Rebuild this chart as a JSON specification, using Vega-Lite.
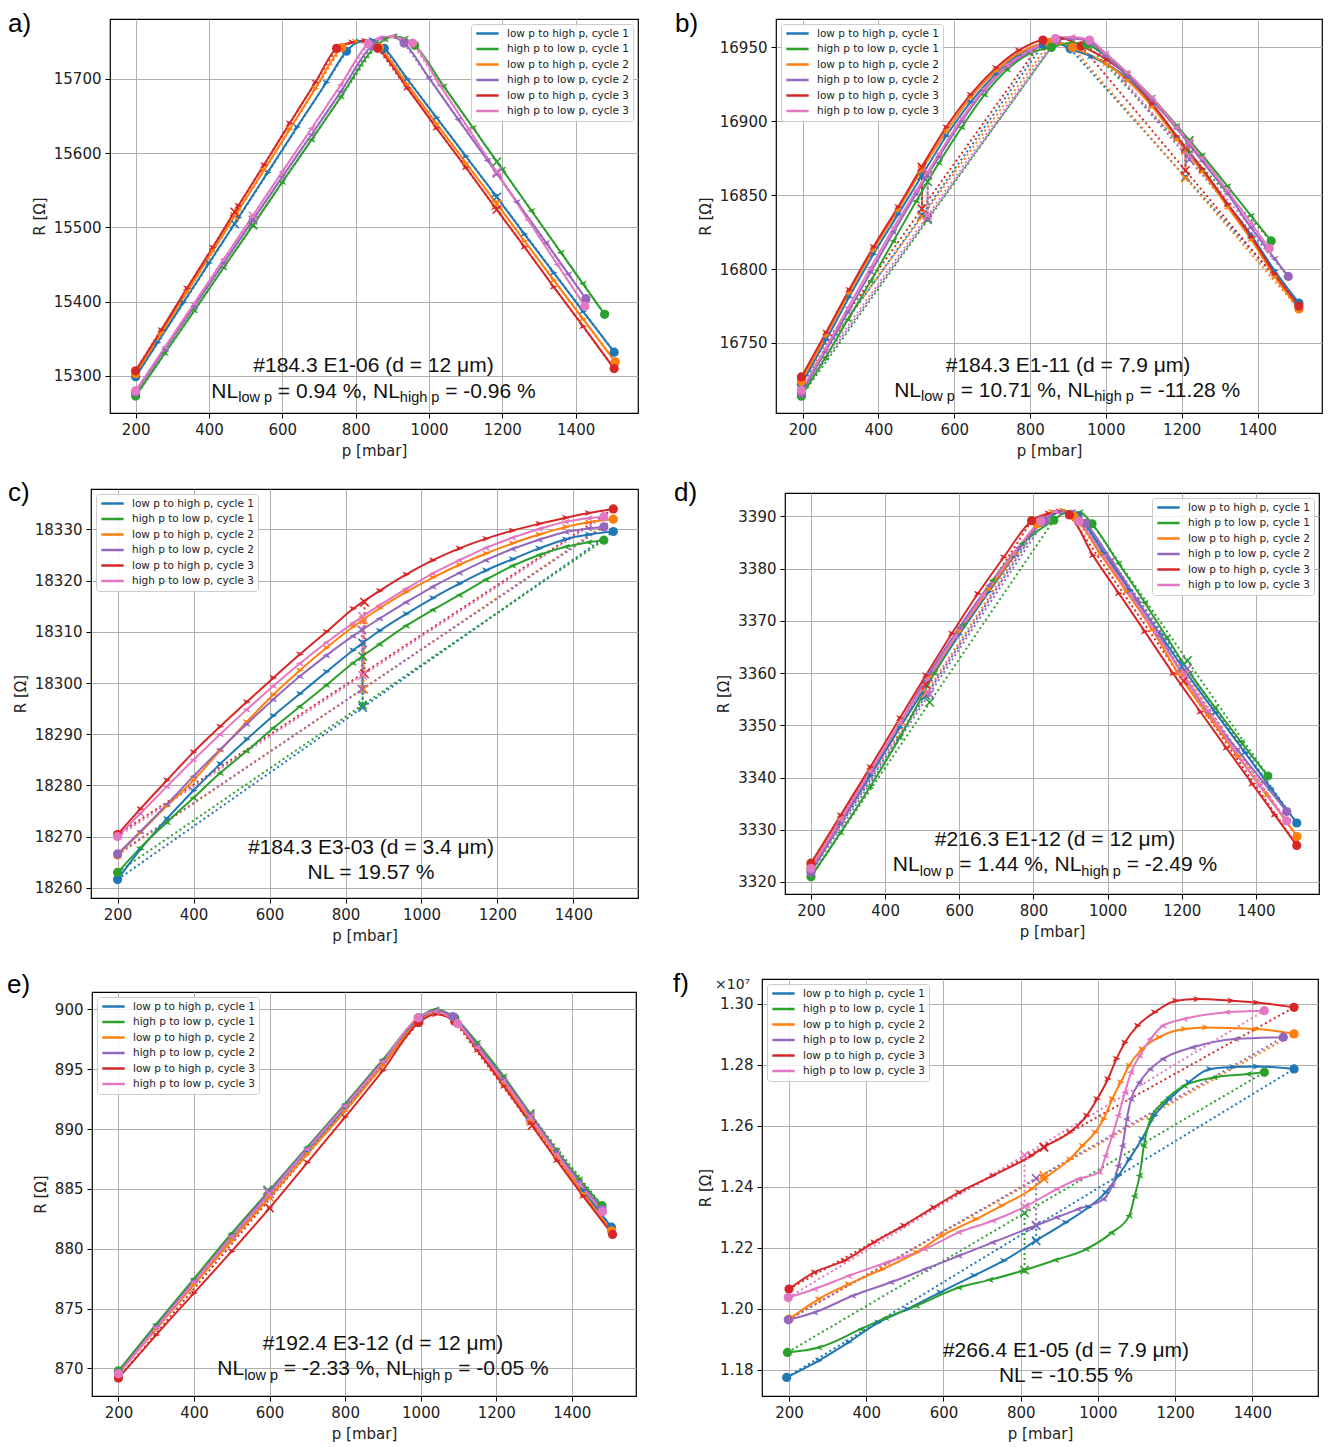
{
"$schema":"https://vega.github.io/schema/vega-lite/v6.json",
"background":"white",
"padding":{"left":6,"top":10,"right":0,"bottom":0},
"config":{
 "view":{"stroke":"#000000","strokeWidth":1.2},
 "axis":{"labelFont":"DejaVu Sans","labelFontSize":15,"labelColor":"#222222","titleFont":"DejaVu Sans","titleFontSize":15,"titleFontWeight":"normal","titleColor":"#222222","tickColor":"#000000","tickSize":5,"tickWidth":1,"domain":false,"grid":true,"gridColor":"#b0b0b0","gridWidth":1,"labelPadding":4,"titlePadding":6,"labelFlush":false,"labelOverlap":false},
 "legend":{"labelFont":"DejaVu Sans","labelFontSize":10.5,"labelColor":"#222222","symbolType":"stroke","symbolStrokeWidth":2.5,"symbolSize":500,"fillColor":"rgba(255,255,255,0.85)","strokeColor":"#cccccc","padding":4,"cornerRadius":3,"rowPadding":4.5,"offset":5,"labelOffset":7,"clipHeight":11},
 "title":{"anchor":"start","frame":"group","font":"Liberation Sans","fontSize":26,"fontWeight":"normal","color":"#000000","baseline":"alphabetic","offset":0}
},
"datasets":{
"a_line":[
{"s":"L1","p":200,"R":15299},{"s":"L1","p":260,"R":15345},{"s":"L1","p":330,"R":15399},{"s":"L1","p":400,"R":15452},{"s":"L1","p":480,"R":15513},{"s":"L1","p":560,"R":15574},{"s":"L1","p":640,"R":15635},{"s":"L1","p":720,"R":15695},{"s":"L1","p":775,"R":15737},{"s":"L1","p":810,"R":15750},{"s":"L1","p":845,"R":15752},{"s":"L1","p":878,"R":15741},{"s":"L1","p":940,"R":15700},{"s":"L1","p":1020,"R":15648},{"s":"L1","p":1100,"R":15596},{"s":"L1","p":1180,"R":15544},{"s":"L1","p":1260,"R":15491},{"s":"L1","p":1340,"R":15439},{"s":"L1","p":1420,"R":15387},{"s":"L1","p":1505,"R":15332},
{"s":"H1","p":200,"R":15273},{"s":"H1","p":280,"R":15331},{"s":"H1","p":360,"R":15388},{"s":"H1","p":440,"R":15446},{"s":"H1","p":520,"R":15503},{"s":"H1","p":600,"R":15561},{"s":"H1","p":680,"R":15618},{"s":"H1","p":760,"R":15676},{"s":"H1","p":855,"R":15744},{"s":"H1","p":880,"R":15753},{"s":"H1","p":905,"R":15757},{"s":"H1","p":935,"R":15754},{"s":"H1","p":961,"R":15745},{"s":"H1","p":1040,"R":15690},{"s":"H1","p":1120,"R":15634},{"s":"H1","p":1200,"R":15578},{"s":"H1","p":1280,"R":15522},{"s":"H1","p":1360,"R":15466},{"s":"H1","p":1420,"R":15424},{"s":"H1","p":1479,"R":15383},
{"s":"L2","p":200,"R":15303},{"s":"L2","p":270,"R":15358},{"s":"L2","p":340,"R":15413},{"s":"L2","p":410,"R":15468},{"s":"L2","p":480,"R":15523},{"s":"L2","p":550,"R":15577},{"s":"L2","p":620,"R":15632},{"s":"L2","p":690,"R":15687},{"s":"L2","p":762,"R":15742},{"s":"L2","p":800,"R":15750},{"s":"L2","p":835,"R":15750},{"s":"L2","p":865,"R":15742},{"s":"L2","p":940,"R":15693},{"s":"L2","p":1020,"R":15640},{"s":"L2","p":1100,"R":15587},{"s":"L2","p":1180,"R":15535},{"s":"L2","p":1260,"R":15482},{"s":"L2","p":1340,"R":15429},{"s":"L2","p":1420,"R":15377},{"s":"L2","p":1508,"R":15319},
{"s":"H2","p":200,"R":15278},{"s":"H2","p":280,"R":15336},{"s":"H2","p":360,"R":15394},{"s":"H2","p":440,"R":15452},{"s":"H2","p":520,"R":15510},{"s":"H2","p":600,"R":15568},{"s":"H2","p":680,"R":15625},{"s":"H2","p":760,"R":15683},{"s":"H2","p":845,"R":15745},{"s":"H2","p":870,"R":15754},{"s":"H2","p":900,"R":15757},{"s":"H2","p":932,"R":15748},{"s":"H2","p":1000,"R":15701},{"s":"H2","p":1080,"R":15645},{"s":"H2","p":1160,"R":15590},{"s":"H2","p":1240,"R":15534},{"s":"H2","p":1320,"R":15479},{"s":"H2","p":1380,"R":15437},{"s":"H2","p":1428,"R":15404},
{"s":"L3","p":200,"R":15307},{"s":"L3","p":270,"R":15362},{"s":"L3","p":340,"R":15418},{"s":"L3","p":410,"R":15473},{"s":"L3","p":480,"R":15529},{"s":"L3","p":550,"R":15584},{"s":"L3","p":620,"R":15640},{"s":"L3","p":690,"R":15695},{"s":"L3","p":748,"R":15741},{"s":"L3","p":790,"R":15749},{"s":"L3","p":825,"R":15751},{"s":"L3","p":860,"R":15741},{"s":"L3","p":940,"R":15688},{"s":"L3","p":1020,"R":15634},{"s":"L3","p":1100,"R":15581},{"s":"L3","p":1180,"R":15527},{"s":"L3","p":1260,"R":15474},{"s":"L3","p":1340,"R":15420},{"s":"L3","p":1420,"R":15367},{"s":"L3","p":1505,"R":15310},
{"s":"H3","p":200,"R":15280},{"s":"H3","p":280,"R":15339},{"s":"H3","p":360,"R":15398},{"s":"H3","p":440,"R":15457},{"s":"H3","p":520,"R":15516},{"s":"H3","p":600,"R":15575},{"s":"H3","p":680,"R":15633},{"s":"H3","p":760,"R":15692},{"s":"H3","p":834,"R":15747},{"s":"H3","p":865,"R":15755},{"s":"H3","p":900,"R":15757},{"s":"H3","p":930,"R":15753},{"s":"H3","p":955,"R":15748},{"s":"H3","p":1030,"R":15691},{"s":"H3","p":1110,"R":15631},{"s":"H3","p":1190,"R":15570},{"s":"H3","p":1270,"R":15510},{"s":"H3","p":1350,"R":15450},{"s":"H3","p":1425,"R":15394}
],
"a_end":[
{"s":"L1","g":"a","p":200,"R":15299},{"s":"L1","g":"a","p":775,"R":15737},{"s":"L1","g":"b","p":878,"R":15741},{"s":"L1","g":"b","p":1505,"R":15332},
{"s":"H1","g":"a","p":200,"R":15273},{"s":"H1","g":"a","p":855,"R":15744},{"s":"H1","g":"b","p":961,"R":15745},{"s":"H1","g":"b","p":1479,"R":15383},
{"s":"L2","g":"a","p":200,"R":15303},{"s":"L2","g":"a","p":762,"R":15742},{"s":"L2","g":"b","p":865,"R":15742},{"s":"L2","g":"b","p":1508,"R":15319},
{"s":"H2","g":"a","p":200,"R":15278},{"s":"H2","g":"a","p":845,"R":15745},{"s":"H2","g":"b","p":932,"R":15748},{"s":"H2","g":"b","p":1428,"R":15404},
{"s":"L3","g":"a","p":200,"R":15307},{"s":"L3","g":"a","p":748,"R":15741},{"s":"L3","g":"b","p":860,"R":15741},{"s":"L3","g":"b","p":1505,"R":15310},
{"s":"H3","g":"a","p":200,"R":15280},{"s":"H3","g":"a","p":834,"R":15747},{"s":"H3","g":"b","p":955,"R":15748},{"s":"H3","g":"b","p":1425,"R":15394}
],
"a_x":[
{"s":"L1","g":"1","p":470,"R":15504.7},{"s":"L1","g":"2","p":1185,"R":15541},
{"s":"L2","g":"1","p":470,"R":15514.7},{"s":"L2","g":"2","p":1185,"R":15531.4},
{"s":"L3","g":"1","p":470,"R":15520.8},{"s":"L3","g":"2","p":1185,"R":15523.9},
{"s":"H1","g":"1","p":520,"R":15503},{"s":"H1","g":"2","p":1185,"R":15588.4},
{"s":"H2","g":"1","p":520,"R":15509.7},{"s":"H2","g":"2","p":1185,"R":15572.5},
{"s":"H3","g":"1","p":520,"R":15515.8},{"s":"H3","g":"2","p":1185,"R":15574.8}
],
"a_txt":[{"p":848.6,"R":15305.8,"t":"#184.3 E1-06 (d = 12 μm)"}],
"a_sub":[{"p":406.4,"R":15271.0,"t":"NL","k":"m"},{"p":479.6,"R":15264.9,"t":"low p","k":"s"},{"p":587.8,"R":15271.0,"t":"= 0.94 %, NL","k":"m"},{"p":920.5,"R":15264.9,"t":"high p","k":"s"},{"p":1044.1,"R":15271.0,"t":"= -0.96 %","k":"m"}],
"b_line":[
{"s":"L1","p":197,"R":16722},{"s":"L1","p":262,"R":16752},{"s":"L1","p":323,"R":16781},{"s":"L1","p":387,"R":16810},{"s":"L1","p":452,"R":16837},{"s":"L1","p":514,"R":16863},{"s":"L1","p":579,"R":16890},{"s":"L1","p":643,"R":16913},{"s":"L1","p":710,"R":16932},{"s":"L1","p":770,"R":16945},{"s":"L1","p":835,"R":16952},{"s":"L1","p":870,"R":16953},{"s":"L1","p":906,"R":16949},{"s":"L1","p":960,"R":16944},{"s":"L1","p":1056,"R":16929},{"s":"L1","p":1122,"R":16911},{"s":"L1","p":1187,"R":16889},{"s":"L1","p":1254,"R":16867},{"s":"L1","p":1321,"R":16844},{"s":"L1","p":1383,"R":16823},{"s":"L1","p":1445,"R":16799},{"s":"L1","p":1509,"R":16777},
{"s":"L2","p":197,"R":16724},{"s":"L2","p":262,"R":16755},{"s":"L2","p":323,"R":16784},{"s":"L2","p":387,"R":16813},{"s":"L2","p":452,"R":16840},{"s":"L2","p":514,"R":16867},{"s":"L2","p":579,"R":16893},{"s":"L2","p":643,"R":16916},{"s":"L2","p":710,"R":16934},{"s":"L2","p":770,"R":16946},{"s":"L2","p":851,"R":16953},{"s":"L2","p":880,"R":16953},{"s":"L2","p":912,"R":16950},{"s":"L2","p":1000,"R":16939},{"s":"L2","p":1056,"R":16928},{"s":"L2","p":1122,"R":16910},{"s":"L2","p":1187,"R":16888},{"s":"L2","p":1254,"R":16866},{"s":"L2","p":1321,"R":16842},{"s":"L2","p":1383,"R":16820},{"s":"L2","p":1445,"R":16795},{"s":"L2","p":1509,"R":16773},
{"s":"L3","p":197,"R":16727},{"s":"L3","p":262,"R":16757},{"s":"L3","p":323,"R":16786},{"s":"L3","p":387,"R":16815},{"s":"L3","p":452,"R":16842},{"s":"L3","p":514,"R":16869},{"s":"L3","p":579,"R":16896},{"s":"L3","p":643,"R":16918},{"s":"L3","p":710,"R":16936},{"s":"L3","p":770,"R":16948},{"s":"L3","p":834,"R":16955},{"s":"L3","p":885,"R":16956},{"s":"L3","p":935,"R":16951},{"s":"L3","p":1000,"R":16942},{"s":"L3","p":1056,"R":16931},{"s":"L3","p":1122,"R":16912},{"s":"L3","p":1187,"R":16890},{"s":"L3","p":1254,"R":16868},{"s":"L3","p":1321,"R":16844},{"s":"L3","p":1383,"R":16822},{"s":"L3","p":1445,"R":16797},{"s":"L3","p":1509,"R":16775},
{"s":"H1","p":197,"R":16714},{"s":"H1","p":260,"R":16740},{"s":"H1","p":320,"R":16766},{"s":"H1","p":380,"R":16792},{"s":"H1","p":440,"R":16819},{"s":"H1","p":500,"R":16846},{"s":"H1","p":560,"R":16872},{"s":"H1","p":620,"R":16896},{"s":"H1","p":680,"R":16918},{"s":"H1","p":740,"R":16935},{"s":"H1","p":800,"R":16946},{"s":"H1","p":856,"R":16950},{"s":"H1","p":905,"R":16953},{"s":"H1","p":950,"R":16952},{"s":"H1","p":1000,"R":16944},{"s":"H1","p":1056,"R":16932},{"s":"H1","p":1122,"R":16916},{"s":"H1","p":1187,"R":16897},{"s":"H1","p":1254,"R":16877},{"s":"H1","p":1321,"R":16856},{"s":"H1","p":1383,"R":16836},{"s":"H1","p":1436,"R":16819},
{"s":"H2","p":197,"R":16716},{"s":"H2","p":260,"R":16744},{"s":"H2","p":320,"R":16771},{"s":"H2","p":380,"R":16798},{"s":"H2","p":440,"R":16825},{"s":"H2","p":500,"R":16851},{"s":"H2","p":560,"R":16876},{"s":"H2","p":620,"R":16900},{"s":"H2","p":680,"R":16921},{"s":"H2","p":740,"R":16937},{"s":"H2","p":800,"R":16947},{"s":"H2","p":870,"R":16955},{"s":"H2","p":910,"R":16956},{"s":"H2","p":957,"R":16954},{"s":"H2","p":1000,"R":16944},{"s":"H2","p":1056,"R":16931},{"s":"H2","p":1122,"R":16914},{"s":"H2","p":1187,"R":16895},{"s":"H2","p":1254,"R":16873},{"s":"H2","p":1321,"R":16851},{"s":"H2","p":1383,"R":16828},{"s":"H2","p":1445,"R":16807},{"s":"H2","p":1481,"R":16795},
{"s":"H3","p":197,"R":16718},{"s":"H3","p":260,"R":16746},{"s":"H3","p":320,"R":16774},{"s":"H3","p":380,"R":16801},{"s":"H3","p":440,"R":16828},{"s":"H3","p":500,"R":16853},{"s":"H3","p":560,"R":16878},{"s":"H3","p":620,"R":16902},{"s":"H3","p":680,"R":16922},{"s":"H3","p":740,"R":16938},{"s":"H3","p":800,"R":16948},{"s":"H3","p":867,"R":16956},{"s":"H3","p":910,"R":16957},{"s":"H3","p":957,"R":16955},{"s":"H3","p":1000,"R":16946},{"s":"H3","p":1056,"R":16933},{"s":"H3","p":1122,"R":16916},{"s":"H3","p":1187,"R":16896},{"s":"H3","p":1254,"R":16875},{"s":"H3","p":1321,"R":16853},{"s":"H3","p":1383,"R":16831},{"s":"H3","p":1431,"R":16814}
],
"b_end":[
{"s":"L1","g":"a","p":197,"R":16722},{"s":"L1","g":"a","p":835,"R":16952},{"s":"L1","g":"b","p":906,"R":16949},{"s":"L1","g":"b","p":1509,"R":16777},
{"s":"L2","g":"a","p":197,"R":16724},{"s":"L2","g":"a","p":851,"R":16953},{"s":"L2","g":"b","p":912,"R":16950},{"s":"L2","g":"b","p":1509,"R":16773},
{"s":"L3","g":"a","p":197,"R":16727},{"s":"L3","g":"a","p":834,"R":16955},{"s":"L3","g":"b","p":935,"R":16951},{"s":"L3","g":"b","p":1509,"R":16775},
{"s":"H1","g":"a","p":197,"R":16714},{"s":"H1","g":"a","p":856,"R":16950},{"s":"H1","g":"b","p":950,"R":16952},{"s":"H1","g":"b","p":1436,"R":16819},
{"s":"H2","g":"a","p":197,"R":16716},{"s":"H2","g":"a","p":870,"R":16955},{"s":"H2","g":"b","p":957,"R":16954},{"s":"H2","g":"b","p":1481,"R":16795},
{"s":"H3","g":"a","p":197,"R":16718},{"s":"H3","g":"a","p":867,"R":16956},{"s":"H3","g":"b","p":957,"R":16955},{"s":"H3","g":"b","p":1431,"R":16814}
],
"b_x":[
{"s":"L1","g":"1","p":515,"R":16836.6},{"s":"L1","g":"1","p":515,"R":16863},{"s":"L1","g":"2","p":1210,"R":16862.3},{"s":"L1","g":"2","p":1210,"R":16881.4},
{"s":"L2","g":"1","p":515,"R":16835.3},{"s":"L2","g":"1","p":515,"R":16867},{"s":"L2","g":"2","p":1210,"R":16861.6},{"s":"L2","g":"2","p":1210,"R":16880.4},
{"s":"L3","g":"1","p":515,"R":16840.8},{"s":"L3","g":"1","p":515,"R":16869},{"s":"L3","g":"2","p":1210,"R":16866.7},{"s":"L3","g":"2","p":1210,"R":16882.5},
{"s":"H1","g":"1","p":530,"R":16833.3},{"s":"H1","g":"1","p":530,"R":16859},{"s":"H1","g":"2","p":1220,"R":16878.1},{"s":"H1","g":"2","p":1220,"R":16887.1},
{"s":"H2","g":"1","p":530,"R":16834.3},{"s":"H2","g":"1","p":530,"R":16863.5},{"s":"H2","g":"2","p":1220,"R":16874.2},{"s":"H2","g":"2","p":1220,"R":16884.2},
{"s":"H3","g":"1","p":530,"R":16836.3},{"s":"H3","g":"1","p":530,"R":16865.5},{"s":"H3","g":"2","p":1220,"R":16876.8},{"s":"H3","g":"2","p":1220,"R":16885.7}
],
"b_txt":[{"p":900.1,"R":16730.5,"t":"#184.3 E1-11 (d = 7.9 μm)"}],
"b_sub":[{"p":441.6,"R":16713.6,"t":"NL","k":"m"},{"p":512.4,"R":16710.6,"t":"low p","k":"s"},{"p":617.0,"R":16713.6,"t":"= 10.71 %, NL","k":"m"},{"p":969.5,"R":16710.6,"t":"high p","k":"s"},{"p":1089.1,"R":16713.6,"t":"= -11.28 %","k":"m"}],
"c_line":[
{"s":"L1","p":200,"R":18261.6},{"s":"L1","p":260,"R":18267.5},{"s":"L1","p":330,"R":18273.5},{"s":"L1","p":400,"R":18279.0},{"s":"L1","p":470,"R":18284.2},{"s":"L1","p":540,"R":18289.0},{"s":"L1","p":610,"R":18293.6},{"s":"L1","p":680,"R":18297.9},{"s":"L1","p":750,"R":18302.2},{"s":"L1","p":820,"R":18306.4},{"s":"L1","p":890,"R":18310.2},{"s":"L1","p":960,"R":18313.5},{"s":"L1","p":1030,"R":18316.6},{"s":"L1","p":1100,"R":18319.4},{"s":"L1","p":1170,"R":18322.0},{"s":"L1","p":1240,"R":18324.2},{"s":"L1","p":1310,"R":18326.3},{"s":"L1","p":1380,"R":18328.1},{"s":"L1","p":1440,"R":18329.0},{"s":"L1","p":1505,"R":18329.6},
{"s":"H1","p":200,"R":18263.0},{"s":"H1","p":260,"R":18267.8},{"s":"H1","p":330,"R":18272.8},{"s":"H1","p":400,"R":18277.6},{"s":"H1","p":470,"R":18282.4},{"s":"H1","p":540,"R":18286.7},{"s":"H1","p":610,"R":18291.2},{"s":"H1","p":680,"R":18295.4},{"s":"H1","p":750,"R":18299.6},{"s":"H1","p":820,"R":18303.9},{"s":"H1","p":890,"R":18307.6},{"s":"H1","p":960,"R":18311.2},{"s":"H1","p":1030,"R":18314.3},{"s":"H1","p":1100,"R":18317.2},{"s":"H1","p":1170,"R":18320.2},{"s":"H1","p":1240,"R":18322.9},{"s":"H1","p":1310,"R":18325.0},{"s":"H1","p":1380,"R":18326.6},{"s":"H1","p":1440,"R":18327.5},{"s":"H1","p":1480,"R":18327.9},
{"s":"L2","p":200,"R":18266.4},{"s":"L2","p":260,"R":18270.8},{"s":"L2","p":330,"R":18276.0},{"s":"L2","p":400,"R":18281.0},{"s":"L2","p":470,"R":18286.8},{"s":"L2","p":540,"R":18292.4},{"s":"L2","p":610,"R":18297.7},{"s":"L2","p":680,"R":18302.5},{"s":"L2","p":750,"R":18306.9},{"s":"L2","p":820,"R":18311.0},{"s":"L2","p":890,"R":18314.6},{"s":"L2","p":960,"R":18317.8},{"s":"L2","p":1030,"R":18320.6},{"s":"L2","p":1100,"R":18323.1},{"s":"L2","p":1170,"R":18325.3},{"s":"L2","p":1240,"R":18327.3},{"s":"L2","p":1310,"R":18329.0},{"s":"L2","p":1380,"R":18330.5},{"s":"L2","p":1440,"R":18331.4},{"s":"L2","p":1505,"R":18332.0},
{"s":"H2","p":200,"R":18266.6},{"s":"H2","p":260,"R":18271.0},{"s":"H2","p":330,"R":18276.3},{"s":"H2","p":400,"R":18281.8},{"s":"H2","p":470,"R":18287.0},{"s":"H2","p":540,"R":18292.0},{"s":"H2","p":610,"R":18296.8},{"s":"H2","p":680,"R":18301.3},{"s":"H2","p":750,"R":18305.4},{"s":"H2","p":820,"R":18309.2},{"s":"H2","p":890,"R":18312.6},{"s":"H2","p":960,"R":18315.8},{"s":"H2","p":1030,"R":18318.8},{"s":"H2","p":1100,"R":18321.5},{"s":"H2","p":1170,"R":18324.0},{"s":"H2","p":1240,"R":18326.2},{"s":"H2","p":1310,"R":18328.0},{"s":"H2","p":1380,"R":18329.5},{"s":"H2","p":1440,"R":18330.2},{"s":"H2","p":1480,"R":18330.5},
{"s":"L3","p":200,"R":18270.4},{"s":"L3","p":260,"R":18275.4},{"s":"L3","p":330,"R":18281.0},{"s":"L3","p":400,"R":18286.5},{"s":"L3","p":470,"R":18291.5},{"s":"L3","p":540,"R":18296.3},{"s":"L3","p":610,"R":18301.0},{"s":"L3","p":680,"R":18305.6},{"s":"L3","p":750,"R":18310.0},{"s":"L3","p":820,"R":18314.5},{"s":"L3","p":890,"R":18318.0},{"s":"L3","p":960,"R":18321.2},{"s":"L3","p":1030,"R":18324.0},{"s":"L3","p":1100,"R":18326.3},{"s":"L3","p":1170,"R":18328.2},{"s":"L3","p":1240,"R":18329.8},{"s":"L3","p":1310,"R":18331.1},{"s":"L3","p":1380,"R":18332.3},{"s":"L3","p":1440,"R":18333.2},{"s":"L3","p":1505,"R":18334.0},
{"s":"H3","p":200,"R":18270.0},{"s":"H3","p":260,"R":18274.5},{"s":"H3","p":330,"R":18279.8},{"s":"H3","p":400,"R":18285.0},{"s":"H3","p":470,"R":18290.0},{"s":"H3","p":540,"R":18294.8},{"s":"H3","p":610,"R":18299.4},{"s":"H3","p":680,"R":18303.8},{"s":"H3","p":750,"R":18307.9},{"s":"H3","p":820,"R":18311.7},{"s":"H3","p":890,"R":18315.2},{"s":"H3","p":960,"R":18318.4},{"s":"H3","p":1030,"R":18321.4},{"s":"H3","p":1100,"R":18324.0},{"s":"H3","p":1170,"R":18326.4},{"s":"H3","p":1240,"R":18328.4},{"s":"H3","p":1310,"R":18330.1},{"s":"H3","p":1380,"R":18331.5},{"s":"H3","p":1440,"R":18332.2},{"s":"H3","p":1480,"R":18332.5}
],
"c_end":[
{"s":"L1","g":"a","p":200,"R":18261.6},{"s":"L1","g":"a","p":1505,"R":18329.6},
{"s":"H1","g":"a","p":200,"R":18263.0},{"s":"H1","g":"a","p":1480,"R":18327.9},
{"s":"L2","g":"a","p":200,"R":18266.4},{"s":"L2","g":"a","p":1505,"R":18332.0},
{"s":"H2","g":"a","p":200,"R":18266.6},{"s":"H2","g":"a","p":1480,"R":18330.5},
{"s":"L3","g":"a","p":200,"R":18270.4},{"s":"L3","g":"a","p":1505,"R":18334.0},
{"s":"H3","g":"a","p":200,"R":18270.0},{"s":"H3","g":"a","p":1480,"R":18332.5}
],
"c_x":[
{"s":"L1","g":"1","p":845,"R":18307.8},{"s":"L1","g":"1","p":845,"R":18295.2},
{"s":"H1","g":"1","p":845,"R":18305.2},{"s":"H1","g":"1","p":845,"R":18295.7},
{"s":"L2","g":"1","p":848,"R":18312.3},{"s":"L2","g":"1","p":848,"R":18298.8},
{"s":"H2","g":"1","p":843,"R":18310.4},{"s":"H2","g":"1","p":843,"R":18298.8},
{"s":"L3","g":"1","p":850,"R":18315.8},{"s":"L3","g":"1","p":850,"R":18301.8},
{"s":"H3","g":"1","p":845,"R":18313.0},{"s":"H3","g":"1","p":845,"R":18301.5}
],
"c_txt":[{"p":867.1,"R":18266.5,"t":"#184.3 E3-03 (d = 3.4 μm)"},{"p":867.1,"R":18261.7,"t":"NL = 19.57 %"}],
"d_line":[
{"s":"L1","p":200,"R":3322.3},{"s":"L1","p":280,"R":3331.3},{"s":"L1","p":360,"R":3340.4},{"s":"L1","p":440,"R":3349.6},{"s":"L1","p":520,"R":3358.6},{"s":"L1","p":600,"R":3367.4},{"s":"L1","p":680,"R":3375.6},{"s":"L1","p":750,"R":3382.6},{"s":"L1","p":820,"R":3389.0},{"s":"L1","p":860,"R":3390.7},{"s":"L1","p":890,"R":3390.9},{"s":"L1","p":920,"R":3390.0},{"s":"L1","p":990,"R":3383.0},{"s":"L1","p":1060,"R":3375.8},{"s":"L1","p":1140,"R":3367.6},{"s":"L1","p":1213,"R":3360.0},{"s":"L1","p":1290,"R":3352.5},{"s":"L1","p":1370,"R":3344.8},{"s":"L1","p":1440,"R":3338.0},{"s":"L1","p":1510,"R":3331.3},
{"s":"L2","p":200,"R":3322.8},{"s":"L2","p":280,"R":3332.0},{"s":"L2","p":360,"R":3341.2},{"s":"L2","p":440,"R":3350.4},{"s":"L2","p":520,"R":3359.4},{"s":"L2","p":600,"R":3368.0},{"s":"L2","p":680,"R":3376.0},{"s":"L2","p":750,"R":3382.9},{"s":"L2","p":810,"R":3388.6},{"s":"L2","p":850,"R":3390.9},{"s":"L2","p":880,"R":3391.2},{"s":"L2","p":910,"R":3390.0},{"s":"L2","p":980,"R":3382.9},{"s":"L2","p":1050,"R":3375.7},{"s":"L2","p":1120,"R":3368.4},{"s":"L2","p":1190,"R":3360.0},{"s":"L2","p":1270,"R":3352.0},{"s":"L2","p":1350,"R":3344.2},{"s":"L2","p":1430,"R":3336.6},{"s":"L2","p":1511,"R":3328.7},
{"s":"L3","p":200,"R":3323.6},{"s":"L3","p":280,"R":3332.8},{"s":"L3","p":360,"R":3342.0},{"s":"L3","p":440,"R":3351.4},{"s":"L3","p":510,"R":3359.6},{"s":"L3","p":580,"R":3367.6},{"s":"L3","p":650,"R":3375.2},{"s":"L3","p":720,"R":3382.2},{"s":"L3","p":795,"R":3389.2},{"s":"L3","p":840,"R":3390.6},{"s":"L3","p":870,"R":3391.0},{"s":"L3","p":897,"R":3390.3},{"s":"L3","p":960,"R":3382.6},{"s":"L3","p":1030,"R":3375.3},{"s":"L3","p":1100,"R":3368.0},{"s":"L3","p":1176,"R":3360.0},{"s":"L3","p":1250,"R":3352.6},{"s":"L3","p":1320,"R":3345.7},{"s":"L3","p":1390,"R":3338.8},{"s":"L3","p":1450,"R":3332.9},{"s":"L3","p":1510,"R":3327.0},
{"s":"H1","p":200,"R":3321.0},{"s":"H1","p":280,"R":3329.5},{"s":"H1","p":360,"R":3338.3},{"s":"H1","p":440,"R":3347.7},{"s":"H1","p":533,"R":3360.0},{"s":"H1","p":610,"R":3369.2},{"s":"H1","p":690,"R":3377.8},{"s":"H1","p":770,"R":3384.8},{"s":"H1","p":855,"R":3389.3},{"s":"H1","p":890,"R":3390.8},{"s":"H1","p":925,"R":3390.8},{"s":"H1","p":958,"R":3388.6},{"s":"H1","p":1030,"R":3381.0},{"s":"H1","p":1100,"R":3373.5},{"s":"H1","p":1160,"R":3366.8},{"s":"H1","p":1222,"R":3360.0},{"s":"H1","p":1290,"R":3353.4},{"s":"H1","p":1360,"R":3346.8},{"s":"H1","p":1432,"R":3340.3},
{"s":"H2","p":200,"R":3321.8},{"s":"H2","p":280,"R":3331.3},{"s":"H2","p":360,"R":3340.9},{"s":"H2","p":440,"R":3350.4},{"s":"H2","p":520,"R":3360.0},{"s":"H2","p":600,"R":3368.8},{"s":"H2","p":680,"R":3376.8},{"s":"H2","p":760,"R":3384.0},{"s":"H2","p":830,"R":3389.2},{"s":"H2","p":870,"R":3390.8},{"s":"H2","p":905,"R":3390.9},{"s":"H2","p":941,"R":3388.7},{"s":"H2","p":1010,"R":3381.6},{"s":"H2","p":1080,"R":3374.0},{"s":"H2","p":1140,"R":3367.2},{"s":"H2","p":1195,"R":3360.5},{"s":"H2","p":1270,"R":3352.6},{"s":"H2","p":1350,"R":3345.3},{"s":"H2","p":1420,"R":3339.1},{"s":"H2","p":1483,"R":3333.5},
{"s":"H3","p":200,"R":3322.6},{"s":"H3","p":280,"R":3331.9},{"s":"H3","p":360,"R":3341.2},{"s":"H3","p":440,"R":3350.4},{"s":"H3","p":515,"R":3358.8},{"s":"H3","p":590,"R":3367.0},{"s":"H3","p":665,"R":3375.0},{"s":"H3","p":745,"R":3382.8},{"s":"H3","p":820,"R":3389.1},{"s":"H3","p":860,"R":3390.9},{"s":"H3","p":895,"R":3390.8},{"s":"H3","p":923,"R":3389.1},{"s":"H3","p":990,"R":3382.4},{"s":"H3","p":1060,"R":3375.2},{"s":"H3","p":1130,"R":3367.7},{"s":"H3","p":1200,"R":3360.0},{"s":"H3","p":1270,"R":3352.8},{"s":"H3","p":1340,"R":3345.5},{"s":"H3","p":1410,"R":3338.4},{"s":"H3","p":1483,"R":3331.7}
],
"d_end":[
{"s":"L1","g":"a","p":200,"R":3322.3},{"s":"L1","g":"a","p":820,"R":3389.0},{"s":"L1","g":"b","p":920,"R":3390.0},{"s":"L1","g":"b","p":1510,"R":3331.3},
{"s":"L2","g":"a","p":200,"R":3322.8},{"s":"L2","g":"a","p":810,"R":3388.6},{"s":"L2","g":"b","p":910,"R":3390.0},{"s":"L2","g":"b","p":1511,"R":3328.7},
{"s":"L3","g":"a","p":200,"R":3323.6},{"s":"L3","g":"a","p":795,"R":3389.2},{"s":"L3","g":"b","p":897,"R":3390.3},{"s":"L3","g":"b","p":1510,"R":3327.0},
{"s":"H1","g":"a","p":200,"R":3321.0},{"s":"H1","g":"a","p":855,"R":3389.3},{"s":"H1","g":"b","p":958,"R":3388.6},{"s":"H1","g":"b","p":1432,"R":3340.3},
{"s":"H2","g":"a","p":200,"R":3321.8},{"s":"H2","g":"a","p":830,"R":3389.2},{"s":"H2","g":"b","p":941,"R":3388.7},{"s":"H2","g":"b","p":1483,"R":3333.5},
{"s":"H3","g":"a","p":200,"R":3322.6},{"s":"H3","g":"a","p":820,"R":3389.1},{"s":"H3","g":"b","p":923,"R":3389.1},{"s":"H3","g":"b","p":1483,"R":3331.7}
],
"d_x":[
{"s":"L1","g":"1","p":510,"R":3355.65},{"s":"L1","g":"2","p":1205,"R":3361.6},
{"s":"L2","g":"1","p":510,"R":3356.2},{"s":"L2","g":"2","p":1205,"R":3359.9},
{"s":"L3","g":"1","p":510,"R":3357.8},{"s":"L3","g":"2","p":1205,"R":3358.5},
{"s":"H1","g":"1","p":520,"R":3354.4},{"s":"H1","g":"2","p":1215,"R":3362.4},
{"s":"H2","g":"1","p":520,"R":3356.0},{"s":"H2","g":"2","p":1215,"R":3360.8},
{"s":"H3","g":"1","p":515,"R":3356.4},{"s":"H3","g":"2","p":1210,"R":3359.7}
],
"d_txt":[{"p":858.1,"R":3326.9,"t":"#216.3 E1-12 (d = 12 μm)"}],
"d_sub":[{"p":420.8,"R":3322.05,"t":"NL","k":"m"},{"p":493.2,"R":3321.19,"t":"low p","k":"s"},{"p":600.2,"R":3322.05,"t":"= 1.44 %, NL","k":"m"},{"p":929.2,"R":3321.19,"t":"high p","k":"s"},{"p":1051.4,"R":3322.05,"t":"= -2.49 %","k":"m"}],
"e_line":[
{"s":"L1","p":200,"R":869.7},{"s":"L1","p":300,"R":873.5},{"s":"L1","p":400,"R":877.3},{"s":"L1","p":500,"R":881.0},{"s":"L1","p":600,"R":884.6},{"s":"L1","p":700,"R":888.2},{"s":"L1","p":800,"R":891.8},{"s":"L1","p":900,"R":895.6},{"s":"L1","p":995,"R":899.2},{"s":"L1","p":1040,"R":899.8},{"s":"L1","p":1090,"R":899.2},{"s":"L1","p":1150,"R":896.9},{"s":"L1","p":1220,"R":894.0},{"s":"L1","p":1290,"R":891.0},{"s":"L1","p":1360,"R":888.0},{"s":"L1","p":1430,"R":884.9},{"s":"L1","p":1505,"R":881.8},
{"s":"L2","p":200,"R":869.6},{"s":"L2","p":300,"R":873.3},{"s":"L2","p":400,"R":877.0},{"s":"L2","p":500,"R":880.7},{"s":"L2","p":600,"R":884.3},{"s":"L2","p":700,"R":887.9},{"s":"L2","p":800,"R":891.5},{"s":"L2","p":900,"R":895.3},{"s":"L2","p":995,"R":899.0},{"s":"L2","p":1040,"R":899.7},{"s":"L2","p":1090,"R":899.1},{"s":"L2","p":1150,"R":896.8},{"s":"L2","p":1220,"R":893.8},{"s":"L2","p":1290,"R":890.8},{"s":"L2","p":1360,"R":887.8},{"s":"L2","p":1430,"R":884.6},{"s":"L2","p":1505,"R":881.5},
{"s":"L3","p":200,"R":869.2},{"s":"L3","p":300,"R":872.8},{"s":"L3","p":400,"R":876.3},{"s":"L3","p":500,"R":879.8},{"s":"L3","p":600,"R":883.4},{"s":"L3","p":700,"R":887.2},{"s":"L3","p":800,"R":891.0},{"s":"L3","p":900,"R":894.9},{"s":"L3","p":995,"R":898.9},{"s":"L3","p":1040,"R":899.6},{"s":"L3","p":1090,"R":899.0},{"s":"L3","p":1150,"R":896.6},{"s":"L3","p":1220,"R":893.6},{"s":"L3","p":1290,"R":890.5},{"s":"L3","p":1360,"R":887.4},{"s":"L3","p":1430,"R":884.4},{"s":"L3","p":1508,"R":881.2},
{"s":"H1","p":200,"R":869.8},{"s":"H1","p":300,"R":873.7},{"s":"H1","p":400,"R":877.5},{"s":"H1","p":500,"R":881.3},{"s":"H1","p":600,"R":884.9},{"s":"H1","p":700,"R":888.5},{"s":"H1","p":800,"R":892.1},{"s":"H1","p":900,"R":895.8},{"s":"H1","p":995,"R":899.3},{"s":"H1","p":1040,"R":900.0},{"s":"H1","p":1090,"R":899.3},{"s":"H1","p":1150,"R":897.2},{"s":"H1","p":1220,"R":894.4},{"s":"H1","p":1290,"R":891.3},{"s":"H1","p":1360,"R":888.2},{"s":"H1","p":1420,"R":885.8},{"s":"H1","p":1480,"R":883.6},
{"s":"H2","p":200,"R":869.6},{"s":"H2","p":300,"R":873.5},{"s":"H2","p":400,"R":877.3},{"s":"H2","p":500,"R":881.1},{"s":"H2","p":600,"R":884.8},{"s":"H2","p":700,"R":888.4},{"s":"H2","p":800,"R":892.0},{"s":"H2","p":900,"R":895.7},{"s":"H2","p":995,"R":899.3},{"s":"H2","p":1040,"R":899.9},{"s":"H2","p":1085,"R":899.4},{"s":"H2","p":1150,"R":897.0},{"s":"H2","p":1220,"R":894.2},{"s":"H2","p":1290,"R":891.2},{"s":"H2","p":1360,"R":888.1},{"s":"H2","p":1420,"R":885.6},{"s":"H2","p":1480,"R":883.3},
{"s":"H3","p":200,"R":869.55},{"s":"H3","p":300,"R":873.4},{"s":"H3","p":400,"R":877.2},{"s":"H3","p":500,"R":881.0},{"s":"H3","p":600,"R":884.6},{"s":"H3","p":700,"R":888.3},{"s":"H3","p":800,"R":891.9},{"s":"H3","p":900,"R":895.6},{"s":"H3","p":993,"R":899.3},{"s":"H3","p":1040,"R":899.8},{"s":"H3","p":1098,"R":898.8},{"s":"H3","p":1150,"R":896.8},{"s":"H3","p":1220,"R":894.0},{"s":"H3","p":1290,"R":891.0},{"s":"H3","p":1360,"R":887.9},{"s":"H3","p":1420,"R":885.4},{"s":"H3","p":1481,"R":883.1}
],
"e_end":[
{"s":"L1","g":"a","p":200,"R":869.7},{"s":"L1","g":"a","p":995,"R":899.2},{"s":"L1","g":"b","p":1090,"R":899.2},{"s":"L1","g":"b","p":1505,"R":881.8},
{"s":"L2","g":"a","p":200,"R":869.6},{"s":"L2","g":"a","p":995,"R":899.0},{"s":"L2","g":"b","p":1090,"R":899.1},{"s":"L2","g":"b","p":1505,"R":881.5},
{"s":"L3","g":"a","p":200,"R":869.2},{"s":"L3","g":"a","p":995,"R":898.9},{"s":"L3","g":"b","p":1090,"R":899.0},{"s":"L3","g":"b","p":1508,"R":881.2},
{"s":"H1","g":"a","p":200,"R":869.8},{"s":"H1","g":"a","p":995,"R":899.3},{"s":"H1","g":"b","p":1090,"R":899.3},{"s":"H1","g":"b","p":1480,"R":883.6},
{"s":"H2","g":"a","p":200,"R":869.6},{"s":"H2","g":"a","p":995,"R":899.3},{"s":"H2","g":"b","p":1085,"R":899.4},{"s":"H2","g":"b","p":1480,"R":883.3},
{"s":"H3","g":"a","p":200,"R":869.55},{"s":"H3","g":"a","p":993,"R":899.3},{"s":"H3","g":"b","p":1098,"R":898.8},{"s":"H3","g":"b","p":1481,"R":883.1}
],
"e_x":[
{"s":"L1","g":"1","p":600,"R":884.6},{"s":"L1","g":"2","p":1290,"R":891.0},
{"s":"L2","g":"1","p":600,"R":884.3},{"s":"L2","g":"2","p":1290,"R":890.8},
{"s":"L3","g":"1","p":600,"R":883.4},{"s":"L3","g":"2","p":1295,"R":890.3},
{"s":"H1","g":"1","p":595,"R":884.9},{"s":"H1","g":"2","p":1290,"R":891.3},
{"s":"H2","g":"1","p":595,"R":884.8},{"s":"H2","g":"2","p":1290,"R":891.2},
{"s":"H3","g":"1","p":600,"R":884.6},{"s":"H3","g":"2","p":1290,"R":891.0}
],
"e_txt":[{"p":900.3,"R":871.54,"t":"#192.4 E3-12 (d = 12 μm)"}],
"e_sub":[{"p":461.8,"R":869.45,"t":"NL","k":"m"},{"p":532.8,"R":869.07,"t":"low p","k":"s"},{"p":637.9,"R":869.45,"t":"= -2.33 %, NL","k":"m"},{"p":979.2,"R":869.07,"t":"high p","k":"s"},{"p":1099.3,"R":869.45,"t":"= -0.05 %","k":"m"}],
"f_line":[
{"s":"L1","p":194,"R":11775000},{"s":"L1","p":277,"R":11830000},{"s":"L1","p":354,"R":11890000},{"s":"L1","p":431,"R":11955000},{"s":"L1","p":506,"R":11999000},{"s":"L1","p":591,"R":12054000},{"s":"L1","p":679,"R":12109000},{"s":"L1","p":756,"R":12158000},{"s":"L1","p":839,"R":12223000},{"s":"L1","p":916,"R":12283000},{"s":"L1","p":976,"R":12333000},{"s":"L1","p":1020,"R":12382000},{"s":"L1","p":1053,"R":12437000},{"s":"L1","p":1081,"R":12491000},{"s":"L1","p":1114,"R":12557000},{"s":"L1","p":1147,"R":12634000},{"s":"L1","p":1185,"R":12688000},{"s":"L1","p":1235,"R":12743000},{"s":"L1","p":1290,"R":12787000},{"s":"L1","p":1350,"R":12793000},{"s":"L1","p":1411,"R":12795000},{"s":"L1","p":1508,"R":12787000},
{"s":"H1","p":196,"R":11857000},{"s":"H1","p":277,"R":11873000},{"s":"H1","p":387,"R":11934000},{"s":"H1","p":450,"R":11970000},{"s":"H1","p":530,"R":12010000},{"s":"H1","p":640,"R":12070000},{"s":"H1","p":720,"R":12095000},{"s":"H1","p":805,"R":12125000},{"s":"H1","p":890,"R":12160000},{"s":"H1","p":970,"R":12196000},{"s":"H1","p":1036,"R":12250000},{"s":"H1","p":1081,"R":12305000},{"s":"H1","p":1095,"R":12370000},{"s":"H1","p":1108,"R":12437000},{"s":"H1","p":1119,"R":12535000},{"s":"H1","p":1136,"R":12623000},{"s":"H1","p":1169,"R":12677000},{"s":"H1","p":1224,"R":12732000},{"s":"H1","p":1301,"R":12759000},{"s":"H1","p":1389,"R":12770000},{"s":"H1","p":1431,"R":12776000},
{"s":"L2","p":200,"R":11966000},{"s":"L2","p":277,"R":12032000},{"s":"L2","p":354,"R":12081000},{"s":"L2","p":442,"R":12130000},{"s":"L2","p":530,"R":12185000},{"s":"L2","p":596,"R":12240000},{"s":"L2","p":684,"R":12294000},{"s":"L2","p":750,"R":12338000},{"s":"L2","p":828,"R":12393000},{"s":"L2","p":860,"R":12426000},{"s":"L2","p":927,"R":12491000},{"s":"L2","p":960,"R":12535000},{"s":"L2","p":993,"R":12579000},{"s":"L2","p":1015,"R":12623000},{"s":"L2","p":1037,"R":12688000},{"s":"L2","p":1059,"R":12743000},{"s":"L2","p":1081,"R":12798000},{"s":"L2","p":1114,"R":12852000},{"s":"L2","p":1158,"R":12891000},{"s":"L2","p":1224,"R":12918000},{"s":"L2","p":1279,"R":12923000},{"s":"L2","p":1411,"R":12918000},{"s":"L2","p":1508,"R":12902000},
{"s":"H2","p":198,"R":11964000},{"s":"H2","p":266,"R":11988000},{"s":"H2","p":365,"R":12043000},{"s":"H2","p":464,"R":12087000},{"s":"H2","p":552,"R":12130000},{"s":"H2","p":640,"R":12174000},{"s":"H2","p":728,"R":12218000},{"s":"H2","p":816,"R":12262000},{"s":"H2","p":894,"R":12300000},{"s":"H2","p":949,"R":12327000},{"s":"H2","p":1015,"R":12360000},{"s":"H2","p":1037,"R":12404000},{"s":"H2","p":1053,"R":12469000},{"s":"H2","p":1064,"R":12535000},{"s":"H2","p":1075,"R":12623000},{"s":"H2","p":1086,"R":12688000},{"s":"H2","p":1108,"R":12743000},{"s":"H2","p":1136,"R":12787000},{"s":"H2","p":1169,"R":12820000},{"s":"H2","p":1246,"R":12858000},{"s":"H2","p":1356,"R":12885000},{"s":"H2","p":1480,"R":12891000},
{"s":"L3","p":200,"R":12065000},{"s":"L3","p":266,"R":12120000},{"s":"L3","p":343,"R":12158000},{"s":"L3","p":420,"R":12218000},{"s":"L3","p":497,"R":12273000},{"s":"L3","p":574,"R":12333000},{"s":"L3","p":640,"R":12382000},{"s":"L3","p":728,"R":12437000},{"s":"L3","p":827,"R":12502000},{"s":"L3","p":860,"R":12530000},{"s":"L3","p":927,"R":12579000},{"s":"L3","p":971,"R":12634000},{"s":"L3","p":998,"R":12688000},{"s":"L3","p":1026,"R":12754000},{"s":"L3","p":1048,"R":12820000},{"s":"L3","p":1070,"R":12874000},{"s":"L3","p":1103,"R":12929000},{"s":"L3","p":1147,"R":12973000},{"s":"L3","p":1202,"R":13011000},{"s":"L3","p":1257,"R":13016000},{"s":"L3","p":1345,"R":13011000},{"s":"L3","p":1411,"R":13005000},{"s":"L3","p":1508,"R":12989000},
{"s":"H3","p":198,"R":12037000},{"s":"H3","p":266,"R":12065000},{"s":"H3","p":354,"R":12108000},{"s":"H3","p":453,"R":12152000},{"s":"H3","p":552,"R":12196000},{"s":"H3","p":640,"R":12251000},{"s":"H3","p":728,"R":12289000},{"s":"H3","p":816,"R":12338000},{"s":"H3","p":894,"R":12393000},{"s":"H3","p":949,"R":12426000},{"s":"H3","p":1004,"R":12448000},{"s":"H3","p":1020,"R":12502000},{"s":"H3","p":1037,"R":12568000},{"s":"H3","p":1053,"R":12634000},{"s":"H3","p":1070,"R":12710000},{"s":"H3","p":1086,"R":12776000},{"s":"H3","p":1108,"R":12830000},{"s":"H3","p":1136,"R":12885000},{"s":"H3","p":1169,"R":12929000},{"s":"H3","p":1224,"R":12951000},{"s":"H3","p":1334,"R":12973000},{"s":"H3","p":1431,"R":12978000}
],
"f_end":[
{"s":"L1","g":"a","p":194,"R":11775000},{"s":"L1","g":"a","p":1508,"R":12787000},
{"s":"H1","g":"a","p":196,"R":11857000},{"s":"H1","g":"a","p":1431,"R":12776000},
{"s":"L2","g":"a","p":200,"R":11966000},{"s":"L2","g":"a","p":1508,"R":12902000},
{"s":"H2","g":"a","p":198,"R":11964000},{"s":"H2","g":"a","p":1480,"R":12891000},
{"s":"L3","g":"a","p":200,"R":12065000},{"s":"L3","g":"a","p":1508,"R":12989000},
{"s":"H3","g":"a","p":198,"R":12037000},{"s":"H3","g":"a","p":1431,"R":12978000}
],
"f_x":[
{"s":"L1","g":"1","p":840,"R":12223000},{"s":"L1","g":"1","p":840,"R":12273000},
{"s":"H1","g":"1","p":810,"R":12127000},{"s":"H1","g":"1","p":810,"R":12314000},
{"s":"L2","g":"1","p":860,"R":12426000},{"s":"L2","g":"1","p":860,"R":12438000},
{"s":"H2","g":"1","p":840,"R":12274000},{"s":"H2","g":"1","p":840,"R":12428000},
{"s":"L3","g":"1","p":860,"R":12530000},{"s":"L3","g":"1","p":860,"R":12531000},
{"s":"H3","g":"1","p":810,"R":12335000},{"s":"H3","g":"1","p":810,"R":12504000}
],
"f_txt":[{"p":917.3,"R":11840900,"t":"#266.4 E1-05 (d = 7.9 μm)"},{"p":917.3,"R":11758900,"t":"NL = -10.55 %"}],
"f_off":[{"p":8.3,"R":13049200,"t":"×10⁷"}]
},
"spacing":0,
"resolve":{"scale":{"color":"independent","shape":"independent","size":"independent","x":"independent","y":"independent"},"legend":{"color":"independent","shape":"independent","size":"independent"}},
"vconcat":[
{"hconcat":[
 {"width":1,"height":1,"data":{"values":[{"z":0}]},"mark":{"type":"point","opacity":0,"size":0},"view":{"stroke":null}},
 {"width":528,"height":394,"title":{"text":"a)","dx":-102,"dy":22},
  "encoding":{
   "x":{"field":"p","type":"quantitative","scale":{"domain":[130,1570],"nice":false,"zero":false},"axis":{"title":"p [mbar]","values":[200,400,600,800,1000,1200,1400],"format":"d"}},
   "y":{"field":"R","type":"quantitative","scale":{"domain":[15250.2,15780.4],"nice":false,"zero":false},"axis":{"title":"R [Ω]","values":[15300,15400,15500,15600,15700],"format":"d"}},
   "color":{"field":"s","type":"nominal","scale":{"domain":["L1","H1","L2","H2","L3","H3"],"range":["#1f77b4","#2ca02c","#ff7f0e","#9467bd","#d62728","#e377c2"]},"legend":{"title":null,"orient":"top-right","symbolType":"stroke","labelExpr":"datum.label=='L1'?'low p to high p, cycle 1':datum.label=='H1'?'high p to low p, cycle 1':datum.label=='L2'?'low p to high p, cycle 2':datum.label=='H2'?'high p to low p, cycle 2':datum.label=='L3'?'low p to high p, cycle 3':'high p to low p, cycle 3'"}}
  },
  "layer":[
   {"data":{"name":"a_end"},"mark":{"type":"line","strokeDash":[2,3],"strokeWidth":2},"encoding":{"detail":{"field":"g"}}},
   {"data":{"name":"a_line"},"mark":{"type":"line","strokeWidth":2,"interpolate":"monotone"},"encoding":{}},
   {"data":{"name":"a_line"},"transform":[{"calculate":"substring(datum.s,0,1)","as":"dir"}],"mark":{"type":"point","filled":true,"size":65,"opacity":1},"encoding":{"shape":{"field":"dir","type":"nominal","scale":{"domain":["L","H"],"range":["M-1,-0.75L1,0L-1,0.75L-0.45,0Z","M1,-0.75L-1,0L1,0.75L0.45,0Z"]},"legend":null}}},
   {"data":{"name":"a_x"},"mark":{"type":"point","shape":"M-1,-1L1,1M-1,1L1,-1","filled":false,"size":70,"strokeWidth":1.6,"opacity":1}},
   {"data":{"name":"a_end"},"mark":{"type":"circle","size":85,"opacity":1}},
   {"data":{"name":"a_txt"},"mark":{"type":"text","font":"Liberation Sans","fontSize":21,"align":"center","baseline":"alphabetic"},"encoding":{"text":{"field":"t"},"color":{"value":"#111111"}}},
   {"data":{"name":"a_sub"},"mark":{"type":"text","font":"Liberation Sans","align":"left","baseline":"alphabetic"},"encoding":{"text":{"field":"t"},"color":{"value":"#111111"},"size":{"field":"k","type":"nominal","scale":{"type":"ordinal","domain":["m","s"],"range":[21,14.5]},"legend":null}}}
  ]},
 {"width":35,"height":1,"data":{"values":[{"z":0}]},"mark":{"type":"point","opacity":0,"size":0},"view":{"stroke":null}},
 {"width":546,"height":394,"title":{"text":"b)","dx":-101,"dy":22},
  "encoding":{
   "x":{"field":"p","type":"quantitative","scale":{"domain":[130,1570],"nice":false,"zero":false},"axis":{"title":"p [mbar]","values":[200,400,600,800,1000,1200,1400],"format":"d"}},
   "y":{"field":"R","type":"quantitative","scale":{"domain":[16702.6,16969.2],"nice":false,"zero":false},"axis":{"title":"R [Ω]","values":[16750,16800,16850,16900,16950],"format":"d"}},
   "color":{"field":"s","type":"nominal","scale":{"domain":["L1","H1","L2","H2","L3","H3"],"range":["#1f77b4","#2ca02c","#ff7f0e","#9467bd","#d62728","#e377c2"]},"legend":{"title":null,"orient":"top-left","symbolType":"stroke","labelExpr":"datum.label=='L1'?'low p to high p, cycle 1':datum.label=='H1'?'high p to low p, cycle 1':datum.label=='L2'?'low p to high p, cycle 2':datum.label=='H2'?'high p to low p, cycle 2':datum.label=='L3'?'low p to high p, cycle 3':'high p to low p, cycle 3'"}}
  },
  "layer":[
   {"data":{"name":"b_end"},"mark":{"type":"line","strokeDash":[2,3],"strokeWidth":2},"encoding":{"detail":{"field":"g"}}},
   {"data":{"name":"b_x"},"mark":{"type":"line","strokeDash":[2,3],"strokeWidth":2},"encoding":{"detail":{"field":"g"}}},
   {"data":{"name":"b_line"},"mark":{"type":"line","strokeWidth":2,"interpolate":"monotone"},"encoding":{}},
   {"data":{"name":"b_line"},"transform":[{"calculate":"substring(datum.s,0,1)","as":"dir"}],"mark":{"type":"point","filled":true,"size":65,"opacity":1},"encoding":{"shape":{"field":"dir","type":"nominal","scale":{"domain":["L","H"],"range":["M-1,-0.75L1,0L-1,0.75L-0.45,0Z","M1,-0.75L-1,0L1,0.75L0.45,0Z"]},"legend":null}}},
   {"data":{"name":"b_x"},"mark":{"type":"point","shape":"M-1,-1L1,1M-1,1L1,-1","filled":false,"size":70,"strokeWidth":1.6,"opacity":1}},
   {"data":{"name":"b_end"},"mark":{"type":"circle","size":85,"opacity":1}},
   {"data":{"name":"b_txt"},"mark":{"type":"text","font":"Liberation Sans","fontSize":21,"align":"center","baseline":"alphabetic"},"encoding":{"text":{"field":"t"},"color":{"value":"#111111"}}},
   {"data":{"name":"b_sub"},"mark":{"type":"text","font":"Liberation Sans","align":"left","baseline":"alphabetic"},"encoding":{"text":{"field":"t"},"color":{"value":"#111111"},"size":{"field":"k","type":"nominal","scale":{"type":"ordinal","domain":["m","s"],"range":[21,14.5]},"legend":null}}}
  ]}
 ],"spacing":0,
 "resolve":{"scale":{"color":"independent","shape":"independent","size":"independent","x":"independent","y":"independent"},"legend":{"color":"independent","shape":"independent","size":"independent"}}},
{"width":1,"height":20,"data":{"values":[{"z":0}]},"mark":{"type":"point","opacity":0,"size":0},"view":{"stroke":null}},
{"hconcat":[
 {"width":1,"height":1,"data":{"values":[{"z":0}]},"mark":{"type":"point","opacity":0,"size":0},"view":{"stroke":null}},
 {"width":547,"height":409,"title":{"text":"c)","dx":-83,"dy":21},
  "encoding":{
   "x":{"field":"p","type":"quantitative","scale":{"domain":[130,1570],"nice":false,"zero":false},"axis":{"title":"p [mbar]","values":[200,400,600,800,1000,1200,1400],"format":"d"}},
   "y":{"field":"R","type":"quantitative","scale":{"domain":[18258.0,18337.9],"nice":false,"zero":false},"axis":{"title":"R [Ω]","values":[18260,18270,18280,18290,18300,18310,18320,18330],"format":"d"}},
   "color":{"field":"s","type":"nominal","scale":{"domain":["L1","H1","L2","H2","L3","H3"],"range":["#1f77b4","#2ca02c","#ff7f0e","#9467bd","#d62728","#e377c2"]},"legend":{"title":null,"orient":"top-left","symbolType":"stroke","labelExpr":"datum.label=='L1'?'low p to high p, cycle 1':datum.label=='H1'?'high p to low p, cycle 1':datum.label=='L2'?'low p to high p, cycle 2':datum.label=='H2'?'high p to low p, cycle 2':datum.label=='L3'?'low p to high p, cycle 3':'high p to low p, cycle 3'"}}
  },
  "layer":[
   {"data":{"name":"c_end"},"mark":{"type":"line","strokeDash":[2,3],"strokeWidth":2},"encoding":{"detail":{"field":"g"}}},
   {"data":{"name":"c_x"},"mark":{"type":"line","strokeDash":[2,3],"strokeWidth":2},"encoding":{"detail":{"field":"g"}}},
   {"data":{"name":"c_line"},"mark":{"type":"line","strokeWidth":2,"interpolate":"monotone"},"encoding":{}},
   {"data":{"name":"c_line"},"transform":[{"calculate":"substring(datum.s,0,1)","as":"dir"}],"mark":{"type":"point","filled":true,"size":65,"opacity":1},"encoding":{"shape":{"field":"dir","type":"nominal","scale":{"domain":["L","H"],"range":["M-1,-0.75L1,0L-1,0.75L-0.45,0Z","M1,-0.75L-1,0L1,0.75L0.45,0Z"]},"legend":null}}},
   {"data":{"name":"c_x"},"mark":{"type":"point","shape":"M-1,-1L1,1M-1,1L1,-1","filled":false,"size":70,"strokeWidth":1.6,"opacity":1}},
   {"data":{"name":"c_end"},"mark":{"type":"circle","size":85,"opacity":1}},
   {"data":{"name":"c_txt"},"mark":{"type":"text","font":"Liberation Sans","fontSize":21,"align":"center","baseline":"alphabetic"},"encoding":{"text":{"field":"t"},"color":{"value":"#111111"}}}
  ]},
 {"width":35,"height":1,"data":{"values":[{"z":0}]},"mark":{"type":"point","opacity":0,"size":0},"view":{"stroke":null}},
 {"title":{"text":"d)","dx":-111,"dy":21},
  "vconcat":[
  {"width":1,"height":3,"data":{"values":[{"z":0}]},"mark":{"type":"point","opacity":0,"size":0},"view":{"stroke":null}},
  {"width":534,"height":401,
  "encoding":{
   "x":{"field":"p","type":"quantitative","scale":{"domain":[130,1570],"nice":false,"zero":false},"axis":{"title":"p [mbar]","values":[200,400,600,800,1000,1200,1400],"format":"d"}},
   "y":{"field":"R","type":"quantitative","scale":{"domain":[3317.7,3394.5],"nice":false,"zero":false},"axis":{"title":"R [Ω]","values":[3320,3330,3340,3350,3360,3370,3380,3390],"format":"d"}},
   "color":{"field":"s","type":"nominal","scale":{"domain":["L1","H1","L2","H2","L3","H3"],"range":["#1f77b4","#2ca02c","#ff7f0e","#9467bd","#d62728","#e377c2"]},"legend":{"title":null,"orient":"top-right","symbolType":"stroke","labelExpr":"datum.label=='L1'?'low p to high p, cycle 1':datum.label=='H1'?'high p to low p, cycle 1':datum.label=='L2'?'low p to high p, cycle 2':datum.label=='H2'?'high p to low p, cycle 2':datum.label=='L3'?'low p to high p, cycle 3':'high p to low p, cycle 3'"}}
  },
  "layer":[
   {"data":{"name":"d_end"},"mark":{"type":"line","strokeDash":[2,3],"strokeWidth":2},"encoding":{"detail":{"field":"g"}}},
   {"data":{"name":"d_line"},"mark":{"type":"line","strokeWidth":2,"interpolate":"monotone"},"encoding":{}},
   {"data":{"name":"d_line"},"transform":[{"calculate":"substring(datum.s,0,1)","as":"dir"}],"mark":{"type":"point","filled":true,"size":65,"opacity":1},"encoding":{"shape":{"field":"dir","type":"nominal","scale":{"domain":["L","H"],"range":["M-1,-0.75L1,0L-1,0.75L-0.45,0Z","M1,-0.75L-1,0L1,0.75L0.45,0Z"]},"legend":null}}},
   {"data":{"name":"d_x"},"mark":{"type":"point","shape":"M-1,-1L1,1M-1,1L1,-1","filled":false,"size":70,"strokeWidth":1.6,"opacity":1}},
   {"data":{"name":"d_end"},"mark":{"type":"circle","size":85,"opacity":1}},
   {"data":{"name":"d_txt"},"mark":{"type":"text","font":"Liberation Sans","fontSize":21,"align":"center","baseline":"alphabetic"},"encoding":{"text":{"field":"t"},"color":{"value":"#111111"}}},
   {"data":{"name":"d_sub"},"mark":{"type":"text","font":"Liberation Sans","align":"left","baseline":"alphabetic"},"encoding":{"text":{"field":"t"},"color":{"value":"#111111"},"size":{"field":"k","type":"nominal","scale":{"type":"ordinal","domain":["m","s"],"range":[21,14.5]},"legend":null}}}
  ]}
  ],"spacing":0,
  "resolve":{"scale":{"color":"independent","shape":"independent","size":"independent","x":"independent","y":"independent"},"legend":{"color":"independent","shape":"independent","size":"independent"}}}
 ],"spacing":0,
 "resolve":{"scale":{"color":"independent","shape":"independent","size":"independent","x":"independent","y":"independent"},"legend":{"color":"independent","shape":"independent","size":"independent"}}},
{"width":1,"height":26,"data":{"values":[{"z":0}]},"mark":{"type":"point","opacity":0,"size":0},"view":{"stroke":null}},
{"hconcat":[
 {"width":1,"height":1,"data":{"values":[{"z":0}]},"mark":{"type":"point","opacity":0,"size":0},"view":{"stroke":null}},
 {"title":{"text":"e)","dx":-85,"dy":22.7},
  "vconcat":[
  {"width":1,"height":12,"data":{"values":[{"z":0}]},"mark":{"type":"point","opacity":0,"size":0},"view":{"stroke":null}},
  {"width":544,"height":404,
  "encoding":{
   "x":{"field":"p","type":"quantitative","scale":{"domain":[130,1570],"nice":false,"zero":false},"axis":{"title":"p [mbar]","values":[200,400,600,800,1000,1200,1400],"format":"d"}},
   "y":{"field":"R","type":"quantitative","scale":{"domain":[867.7,901.45],"nice":false,"zero":false},"axis":{"title":"R [Ω]","values":[870,875,880,885,890,895,900],"format":"d"}},
   "color":{"field":"s","type":"nominal","scale":{"domain":["L1","H1","L2","H2","L3","H3"],"range":["#1f77b4","#2ca02c","#ff7f0e","#9467bd","#d62728","#e377c2"]},"legend":{"title":null,"orient":"top-left","symbolType":"stroke","labelExpr":"datum.label=='L1'?'low p to high p, cycle 1':datum.label=='H1'?'high p to low p, cycle 1':datum.label=='L2'?'low p to high p, cycle 2':datum.label=='H2'?'high p to low p, cycle 2':datum.label=='L3'?'low p to high p, cycle 3':'high p to low p, cycle 3'"}}
  },
  "layer":[
   {"data":{"name":"e_end"},"mark":{"type":"line","strokeDash":[2,3],"strokeWidth":2},"encoding":{"detail":{"field":"g"}}},
   {"data":{"name":"e_line"},"mark":{"type":"line","strokeWidth":2,"interpolate":"monotone"},"encoding":{}},
   {"data":{"name":"e_line"},"transform":[{"calculate":"substring(datum.s,0,1)","as":"dir"}],"mark":{"type":"point","filled":true,"size":65,"opacity":1},"encoding":{"shape":{"field":"dir","type":"nominal","scale":{"domain":["L","H"],"range":["M-1,-0.75L1,0L-1,0.75L-0.45,0Z","M1,-0.75L-1,0L1,0.75L0.45,0Z"]},"legend":null}}},
   {"data":{"name":"e_x"},"mark":{"type":"point","shape":"M-1,-1L1,1M-1,1L1,-1","filled":false,"size":70,"strokeWidth":1.6,"opacity":1}},
   {"data":{"name":"e_end"},"mark":{"type":"circle","size":85,"opacity":1}},
   {"data":{"name":"e_txt"},"mark":{"type":"text","font":"Liberation Sans","fontSize":21,"align":"center","baseline":"alphabetic"},"encoding":{"text":{"field":"t"},"color":{"value":"#111111"}}},
   {"data":{"name":"e_sub"},"mark":{"type":"text","font":"Liberation Sans","align":"left","baseline":"alphabetic"},"encoding":{"text":{"field":"t"},"color":{"value":"#111111"},"size":{"field":"k","type":"nominal","scale":{"type":"ordinal","domain":["m","s"],"range":[21,14.5]},"legend":null}}}
  ]}
  ],"spacing":0,
  "resolve":{"scale":{"color":"independent","shape":"independent","size":"independent","x":"independent","y":"independent"},"legend":{"color":"independent","shape":"independent","size":"independent"}}},
 {"width":35,"height":1,"data":{"values":[{"z":0}]},"mark":{"type":"point","opacity":0,"size":0},"view":{"stroke":null}},
 {"width":556,"height":417,"title":{"text":"f)","dx":-89,"dy":23},
  "encoding":{
   "x":{"field":"p","type":"quantitative","scale":{"domain":[130,1570],"nice":false,"zero":false},"axis":{"title":"p [mbar]","values":[200,400,600,800,1000,1200,1400],"format":"d"}},
   "y":{"field":"R","type":"quantitative","scale":{"domain":[11714000,13082000],"nice":false,"zero":false},"axis":{"title":"R [Ω]","values":[11800000,12000000,12200000,12400000,12600000,12800000,13000000],"labelExpr":"format(datum.value/1e7,'.2f')"}},
   "color":{"field":"s","type":"nominal","scale":{"domain":["L1","H1","L2","H2","L3","H3"],"range":["#1f77b4","#2ca02c","#ff7f0e","#9467bd","#d62728","#e377c2"]},"legend":{"title":null,"orient":"top-left","symbolType":"stroke","labelExpr":"datum.label=='L1'?'low p to high p, cycle 1':datum.label=='H1'?'high p to low p, cycle 1':datum.label=='L2'?'low p to high p, cycle 2':datum.label=='H2'?'high p to low p, cycle 2':datum.label=='L3'?'low p to high p, cycle 3':'high p to low p, cycle 3'"}}
  },
  "layer":[
   {"data":{"name":"f_end"},"mark":{"type":"line","strokeDash":[2,3],"strokeWidth":2},"encoding":{"detail":{"field":"g"}}},
   {"data":{"name":"f_x"},"mark":{"type":"line","strokeDash":[2,3],"strokeWidth":2},"encoding":{"detail":{"field":"g"}}},
   {"data":{"name":"f_line"},"mark":{"type":"line","strokeWidth":2,"interpolate":"monotone"},"encoding":{}},
   {"data":{"name":"f_line"},"transform":[{"calculate":"substring(datum.s,0,1)","as":"dir"}],"mark":{"type":"point","filled":true,"size":65,"opacity":1},"encoding":{"shape":{"field":"dir","type":"nominal","scale":{"domain":["L","H"],"range":["M-1,-0.75L1,0L-1,0.75L-0.45,0Z","M1,-0.75L-1,0L1,0.75L0.45,0Z"]},"legend":null}}},
   {"data":{"name":"f_x"},"mark":{"type":"point","shape":"M-1,-1L1,1M-1,1L1,-1","filled":false,"size":70,"strokeWidth":1.6,"opacity":1}},
   {"data":{"name":"f_end"},"mark":{"type":"circle","size":85,"opacity":1}},
   {"data":{"name":"f_txt"},"mark":{"type":"text","font":"Liberation Sans","fontSize":21,"align":"center","baseline":"alphabetic"},"encoding":{"text":{"field":"t"},"color":{"value":"#111111"}}},
   {"data":{"name":"f_off"},"mark":{"type":"text","font":"DejaVu Sans","fontSize":14,"align":"left","baseline":"alphabetic"},"encoding":{"text":{"field":"t"},"color":{"value":"#222222"}}}
  ]}
 ],"spacing":0,
 "resolve":{"scale":{"color":"independent","shape":"independent","size":"independent","x":"independent","y":"independent"},"legend":{"color":"independent","shape":"independent","size":"independent"}}}
]
}
